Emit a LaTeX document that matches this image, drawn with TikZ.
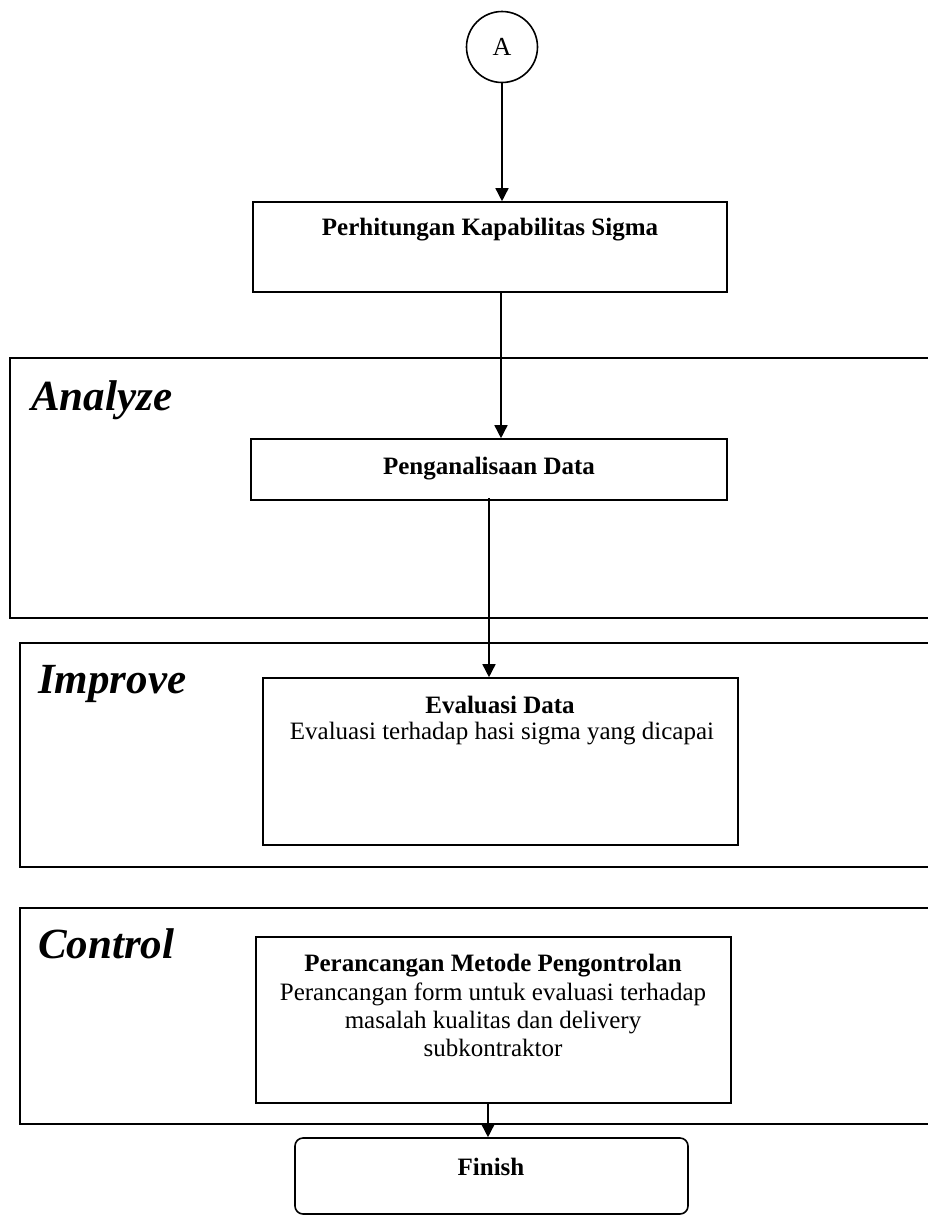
\documentclass[tikz,border=0pt]{standalone}
\usepackage{fontspec}
\setmainfont{Liberation Serif}
\usetikzlibrary{arrows.meta}
\tikzset{
  line/.style={line width=1.5pt, black},
  arr/.style={line, -{Triangle[length=13pt,width=13pt]}},
  box/.style={draw, line width=1.6pt, rectangle, inner sep=0pt},
  frame/.style={draw, line width=1.8pt},
  phase/.style={anchor=base west, inner sep=0pt, font=\fontsize{43}{46}\selectfont\bfseries\itshape},
  btext/.style={anchor=base, inner sep=0pt, font=\fontsize{25}{28}\selectfont\bfseries},
  rtext/.style={anchor=base, inner sep=0pt, font=\fontsize{25}{28}\selectfont},
}
\begin{document}
\begin{tikzpicture}[x=1pt,y=-1pt]
\useasboundingbox (0,0) rectangle (928,1216);
% phase frames
\draw[frame] (930,358) -- (10,358) -- (10,618) -- (930,618);
\draw[frame] (930,643) -- (20,643) -- (20,867) -- (930,867);
\draw[frame] (930,908) -- (20,908) -- (20,1124) -- (930,1124);
\node[phase] (lanalyze) at (31,410) {Analyze};
\node[phase] (limprove) at (38,693) {Improve};
\node[phase] (lcontrol) at (38,958) {Control};
% start connector
\node[draw, circle, line width=1.6pt, minimum size=71pt, inner sep=0pt, font=\fontsize{26}{28}\selectfont] (A) at (502,47) {A};
% boxes
\node[box, minimum width=474pt, minimum height=90pt] (b1) at (490,247) {};
\node[btext] (t1) at (490,235) {Perhitungan Kapabilitas Sigma};
\node[box, minimum width=476pt, minimum height=61pt] (b2) at (489,469.5) {};
\node[btext] (t2) at (489,474) {Penganalisaan Data};
\node[box, minimum width=475pt, minimum height=167pt] (b3) at (500.5,761.5) {};
\node[btext] (t3a) at (500,713) {Evaluasi Data};
\node[rtext] (t3b) at (502,739) {Evaluasi terhadap hasi sigma yang dicapai};
\node[box, minimum width=475pt, minimum height=166pt] (b4) at (493.5,1020) {};
\node[btext] (t4a) at (493,971) {Perancangan Metode Pengontrolan};
\node[rtext] (t4b) at (493,1000) {Perancangan form untuk evaluasi terhadap};
\node[rtext] (t4c) at (493,1028) {masalah kualitas dan delivery};
\node[rtext] (t4d) at (493,1056) {subkontraktor};
\node[draw, line width=1.6pt, rounded corners=8pt, minimum width=393pt, minimum height=76pt, inner sep=0pt] (fin) at (491.5,1176) {};
\node[btext] (tfin) at (491,1175) {Finish};
% connectors
\draw[arr] (A.south) -- (A.south |- b1.north);
\draw[arr] ([xshift=11pt]b1.south) -- ([xshift=12pt]b2.north);
\draw[arr] ([yshift=3pt]b2.south) -- (b2.south |- b3.north);
\draw[arr] ([xshift=-5.5pt]b4.south) -- ([xshift=-3.5pt]fin.north);
\end{tikzpicture}
\end{document}
